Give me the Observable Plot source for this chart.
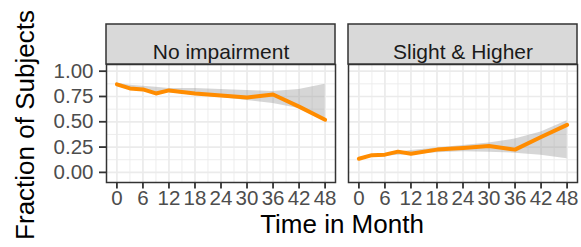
<!DOCTYPE html>
<html>
<head>
<meta charset="utf-8">
<script src="https://cdn.jsdelivr.net/npm/d3@7"></script>
<script src="https://cdn.jsdelivr.net/npm/@observablehq/plot@0.6"></script>
<style>
  html, body { margin: 0; padding: 0; background: white; }
</style>
</head>
<body>
<div id="chart"></div>
<script>
// ---- data ----
const panels = ["No impairment", "Slight & Higher"];
const months = [0, 3, 6, 9, 12, 18, 24, 30, 36, 42, 48];

const fracNo = [0.87, 0.83, 0.82, 0.78, 0.81, 0.78, 0.76, 0.74, 0.77, 0.65, 0.52];
const loNo   = [0.85, 0.82, 0.81, 0.79, 0.79, 0.76, 0.74, 0.71, 0.68, 0.63, 0.53];
const hiNo   = [0.88, 0.86, 0.85, 0.84, 0.83, 0.83, 0.82, 0.81, 0.80, 0.82, 0.87];

const fracSl = [0.135, 0.17, 0.175, 0.205, 0.185, 0.225, 0.24, 0.26, 0.225, 0.35, 0.47];
const loSl   = [0.13, 0.15, 0.16, 0.17, 0.175, 0.195, 0.205, 0.20, 0.19, 0.17, 0.135];
const hiSl   = [0.14, 0.17, 0.18, 0.20, 0.215, 0.24, 0.265, 0.29, 0.33, 0.40, 0.51];

const xTicks = [0, 6, 12, 18, 24, 30, 36, 42, 48];
const xMinor = [3, 9, 15, 21, 27, 33, 39, 45];
const yTicks = [0, 0.25, 0.5, 0.75, 1];
const yMinor = [0.125, 0.375, 0.625, 0.875];

const xTitle = "Time in Month";
const yTitle = "Fraction of Subjects";

// ---- table built from arrays ----
const rows = [];
months.forEach((t, i) => {
  rows.push({panel: panels[0], t, v: fracNo[i], lo: loNo[i], hi: hiNo[i]});
});
months.forEach((t, i) => {
  rows.push({panel: panels[1], t, v: fracSl[i], lo: loSl[i], hi: hiSl[i]});
});

const font = "'Liberation Sans', Arial, Helvetica, sans-serif";
const grid = "#EBEBEB";
const dark = "#333333";

const chart = Plot.plot({
  width: 581,
  height: 247,
  marginLeft: 105.5,
  marginRight: 4.5,
  marginTop: 64,
  marginBottom: 65,
  style: {fontFamily: font, background: "white", overflow: "visible"},
  fx: {domain: panels, padding: 13 / 242, axis: null, label: null},
  x: {domain: [-2.4, 50.4], label: null},
  y: {domain: [-0.1, 1.066], label: null},
  marks: [
    Plot.gridX(xMinor, {stroke: grid, strokeOpacity: 1, strokeWidth: 0.9}),
    Plot.gridY(yMinor, {stroke: grid, strokeOpacity: 1, strokeWidth: 0.9}),
    Plot.gridX(xTicks, {stroke: grid, strokeOpacity: 1, strokeWidth: 1.7}),
    Plot.gridY(yTicks, {stroke: grid, strokeOpacity: 1, strokeWidth: 1.7}),
    Plot.areaY(rows, {fx: "panel", x: "t", y1: "lo", y2: "hi", fill: "#999999", fillOpacity: 0.4}),
    Plot.line(rows, {fx: "panel", x: "t", y: "v", stroke: "#FF8C00", strokeWidth: 4, strokeLinejoin: "round"}),
    Plot.frame({stroke: dark, strokeWidth: 1.5}),
    Plot.rect(panels, {fx: d => d, fill: "#D9D9D9", stroke: dark, strokeWidth: 1.5, insetTop: -40, insetBottom: 118}),
    Plot.text(panels, {fx: d => d, text: d => d, frameAnchor: "top", dy: -20, fontSize: 21, fill: "#1A1A1A"}),
    Plot.axisX(xTicks, {tickSize: 6.5, tickPadding: 1.5, fontSize: 20.5, stroke: dark, strokeWidth: 1.8, fill: "#4D4D4D", label: null}),
    Plot.axisY(yTicks, {tickSize: 7, tickPadding: 6, fontSize: 20.5, stroke: dark, strokeWidth: 1.8, fill: "#4D4D4D", tickFormat: d3.format(".2f"), label: null}),
    Plot.text([xTitle], {facet: "super", frameAnchor: "bottom", dy: 50, fontSize: 26, fill: "black"}),
    Plot.text([yTitle], {facet: "super", frameAnchor: "left", textAnchor: "middle", rotate: -90, dx: -81, dy: 1.5, fontSize: 26, fill: "black"})
  ]
});

document.getElementById("chart").appendChild(chart);
</script>
</body>
</html>
